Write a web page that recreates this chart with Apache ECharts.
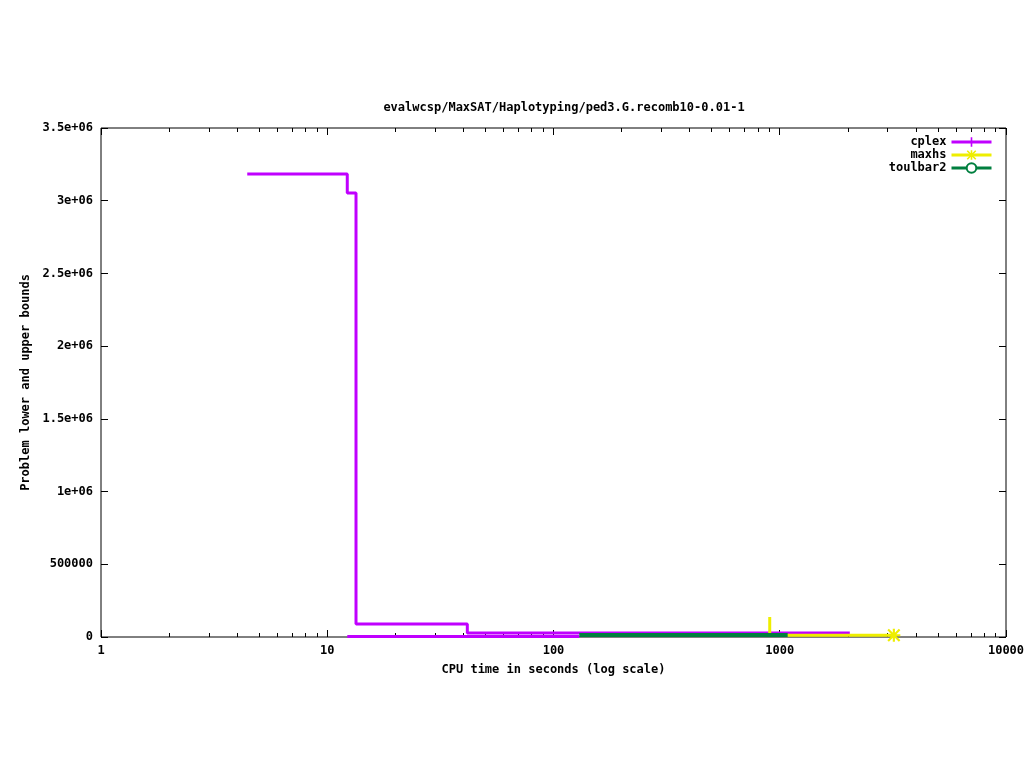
<!DOCTYPE html>
<html>
<head>
<meta charset="utf-8">
<script src="https://cdn.jsdelivr.net/npm/echarts@6/dist/echarts.min.js"></script>
<style>
  html, body { margin: 0; padding: 0; background: #fff; }
  #chart { width: 1024px; height: 768px; }
</style>
</head>
<body>
<div id="chart"></div>
<script>
// values (time in seconds, bound value)
var cplexUpper = [[4.43, 3184000], [12.26, 3053000], [13.4, 89400], [41.6, 27000], [2040, 27000]];
var cplexLower = [[12.26, 3000], [130, 3000]];
var maxhsUpper = [[903, 137000], [903, 12000], [3194, 12000]];
var toulbar2Upper = [[130, 14000], [1084, 14000]];

var xMajorTicks = [1, 10, 100, 1000, 10000];
var xMinorTicks = [];
for (var d = 1; d < 10000; d *= 10) {
  for (var k = 2; k <= 9; k++) xMinorTicks.push(k * d);
}
var yTickLabels = ['0', '500000', '1e+06', '1.5e+06', '2e+06', '2.5e+06', '3e+06', '3.5e+06'];

var font = 'DejaVu Sans Mono';
var plusSym = 'path://M5,0L7,0L7,5L12,5L12,7L7,7L7,12L5,12L5,7L0,7L0,5L5,5Z';
var starSym = 'path://M5,0L7,0L7,5L12,5L12,7L7,7L7,12L5,12L5,7L0,7L0,5L5,5Z' +
  'M1.4,0L6,4.6L10.6,0L12,1.4L7.4,6L12,10.6L10.6,12L6,7.4L1.4,12L0,10.6L4.6,6L0,1.4Z';

function noMarks(arr) {
  return arr.map(function (p) { return { value: p, symbol: 'none' }; });
}
var maxhsData = noMarks(maxhsUpper);
maxhsData[maxhsData.length - 1] = { value: maxhsUpper[maxhsUpper.length - 1] };

var chart = echarts.init(document.getElementById('chart'));
var tickText = { fontFamily: font, fontSize: 12, fontWeight: 'bold', color: '#000' };

function xAx(pos, ticks, len, labels) {
  return {
    type: 'log', logBase: 10, min: 1, max: 10000, position: pos,
    axisLine: { show: false },
    splitLine: { show: false },
    axisTick: { show: true, inside: true, length: len, customValues: ticks, lineStyle: { color: '#000' } },
    axisLabel: labels ? Object.assign({
      show: true, margin: 8, customValues: xMajorTicks,
      formatter: function (v) { return String(Math.round(v)); }
    }, tickText) : { show: false }
  };
}

chart.setOption({
  animation: false,
  backgroundColor: '#fff',
  title: {
    text: 'evalwcsp/MaxSAT/Haplotyping/ped3.G.recomb10-0.01-1',
    left: 559, top: 97, textAlign: 'center',
    textStyle: { fontFamily: font, fontSize: 12, fontWeight: 'bold', color: '#000' }
  },
  grid: {
    left: 101, right: 18, top: 128, bottom: 131,
    outerBoundsMode: 'none', containLabel: false,
    show: true, borderColor: '#000', borderWidth: 1, backgroundColor: 'transparent'
  },
  legend: {
    orient: 'vertical', right: 26, top: 131, align: 'right',
    itemWidth: 40, itemHeight: 12, itemGap: 1,
    lineStyle: { width: 3 },
    textStyle: { fontFamily: font, fontSize: 12, fontWeight: 'bold', color: '#000' },
    data: ['cplex', 'maxhs', 'toulbar2']
  },
  xAxis: [
    Object.assign(xAx('bottom', xMajorTicks, 7, true), {
      name: 'CPU time in seconds (log scale)', nameLocation: 'middle', nameGap: 27,
      nameTextStyle: tickText
    }),
    xAx('bottom', xMinorTicks, 4, false),
    xAx('top', xMajorTicks, 7, false),
    xAx('top', xMinorTicks, 4, false)
  ],
  yAxis: [
    {
      type: 'value', min: 0, max: 3500000, interval: 500000, position: 'left',
      name: 'Problem lower and upper bounds', nameLocation: 'middle', nameGap: 69,
      nameTextStyle: tickText,
      axisLine: { show: false }, splitLine: { show: false },
      axisTick: { show: true, inside: true, length: 7, lineStyle: { color: '#000' } },
      axisLabel: Object.assign({
        margin: 8,
        formatter: function (v) { return yTickLabels[Math.round(v / 500000)]; }
      }, tickText)
    },
    {
      type: 'value', min: 0, max: 3500000, interval: 500000, position: 'right',
      axisLine: { show: false }, splitLine: { show: false },
      axisTick: { show: true, inside: true, length: 7, lineStyle: { color: '#000' } },
      axisLabel: { show: false }
    }
  ],
  series: [
    {
      name: 'cplex', type: 'line', step: 'end', data: noMarks(cplexUpper),
      symbol: plusSym, symbolSize: 13, color: '#c000ff',
      lineStyle: { width: 3, color: '#c000ff' }, itemStyle: { color: '#c000ff' }
    },
    {
      name: 'cplex', type: 'line', step: 'end', data: noMarks(cplexLower),
      symbol: plusSym, symbolSize: 13, color: '#c000ff',
      lineStyle: { width: 3, color: '#c000ff' }, itemStyle: { color: '#c000ff' }
    },
    {
      name: 'maxhs', type: 'line', data: maxhsData,
      symbol: starSym, symbolSize: 13, color: '#eeee00',
      lineStyle: { width: 3, color: '#eeee00' }, itemStyle: { color: '#eeee00' }
    },
    {
      name: 'toulbar2', type: 'line', step: 'end', data: noMarks(toulbar2Upper),
      symbol: 'emptyCircle', symbolSize: 10, color: '#007f3f',
      lineStyle: { width: 4, color: '#007f3f' }, itemStyle: { color: '#007f3f', borderWidth: 2 }
    }
  ]
});
</script>
</body>
</html>
